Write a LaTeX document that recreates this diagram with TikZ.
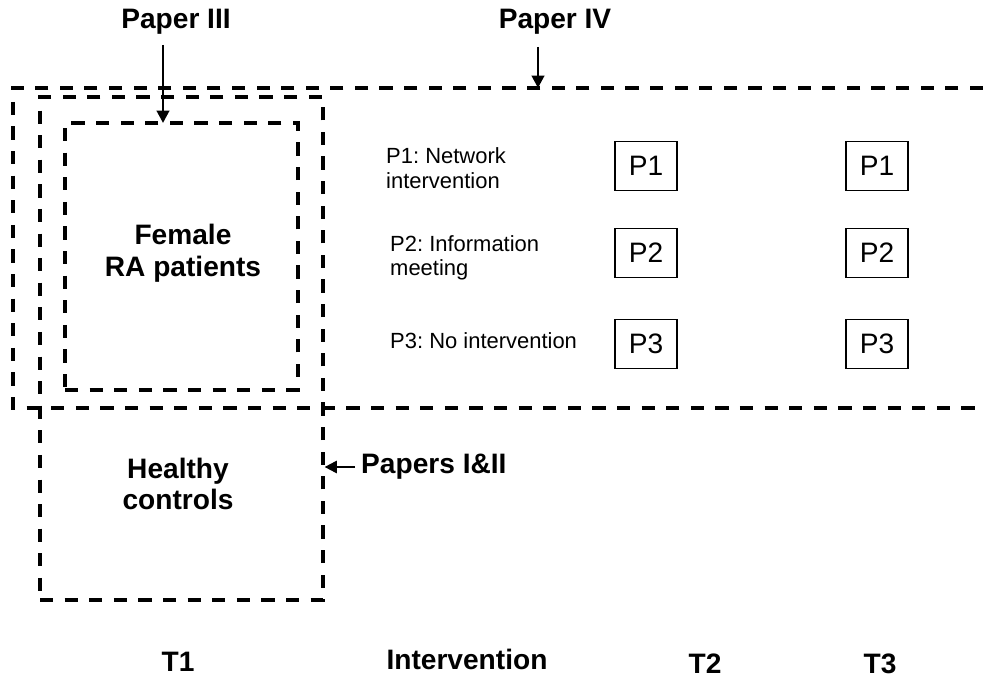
\documentclass[tikz,border=0pt]{standalone}
\usepackage{fontspec}
\setmainfont{Liberation Sans}
\frenchspacing
\usetikzlibrary{positioning,arrows.meta,calc}

\tikzset{
  dashbox/.style={draw, line width=1.9pt, dash pattern=on 7.5pt off 6.5pt},
  pbox/.style={draw, line width=0.6pt, minimum width=1.24cm, minimum height=0.98cm,
    inner sep=0pt, font=\fontsize{16}{18}\selectfont},
  paperlab/.style={font=\bfseries\fontsize{16}{18}\selectfont},
  grouplab/.style={font=\bfseries\fontsize{16}{18}\selectfont, align=center},
  armlab/.style={font=\fontsize{12.5}{14}\selectfont, align=left, anchor=west},
  ptr/.style={-{Triangle[length=7pt,width=7pt]}, line width=1.6pt},
}

\begin{document}
\begin{tikzpicture}[x=0.02cm, y=-0.02cm]
\useasboundingbox (0,0) rectangle (983,678);

% Paper IV: open box over all patients
\coordinate (ivtop) at (538,88);
\draw[dashbox] (983,88) -- (13,88) -- (13,408) -- (983,408);

% T1 column (patients and controls)
\node[dashbox, minimum width=5.66cm, minimum height=10.06cm] (t1box) at (181.5,348.5) {};
\node[dashbox, minimum width=4.66cm, minimum height=5.34cm] (rabox) at (181.5,256.5) {};
\node[grouplab] (ra) at (183,253) {Female\\RA patients};
\node[grouplab] (hc) at (178,484) {Healthy\\controls};

% Paper labels and arrows
\node[paperlab] (paper3) at (176,22) {Paper III};
\node[paperlab] (paper4) at (555,22) {Paper IV};
\coordinate (p3tip) at (163,123);
\draw[ptr] (p3tip |- 0,45) -- (p3tip);
\draw[ptr] (ivtop |- 0,47) -- (ivtop);
\node[paperlab, anchor=west] (paper12) at (355,467) {Papers I\&II};
\draw[ptr, line width=1.3pt] (paper12.west) -- (t1box.east |- paper12.west);

% Intervention arms
\node[armlab] (arm1) at (380,168) {P1: Network\\intervention};
\node[armlab] (arm2) at (384,258) {P2: Information\\meeting};
\node[armlab] (arm3) at (384,341) {P3: No intervention};

% Follow-up groups at T2 and T3
\foreach \i/\y in {1/166, 2/253, 3/344} {
  \node[pbox] (tb\i) at (646,\y) {P\i};
  \node[pbox] (tc\i) at (877,\y) {P\i};
}

% Time points
\node[paperlab] (t1) at (178,662) {T1};
\node[paperlab] (interv) at (467,659) {Intervention};
\node[paperlab] (t2) at (705,664) {T2};
\node[paperlab] (t3) at (880,664) {T3};

\end{tikzpicture}
\end{document}
